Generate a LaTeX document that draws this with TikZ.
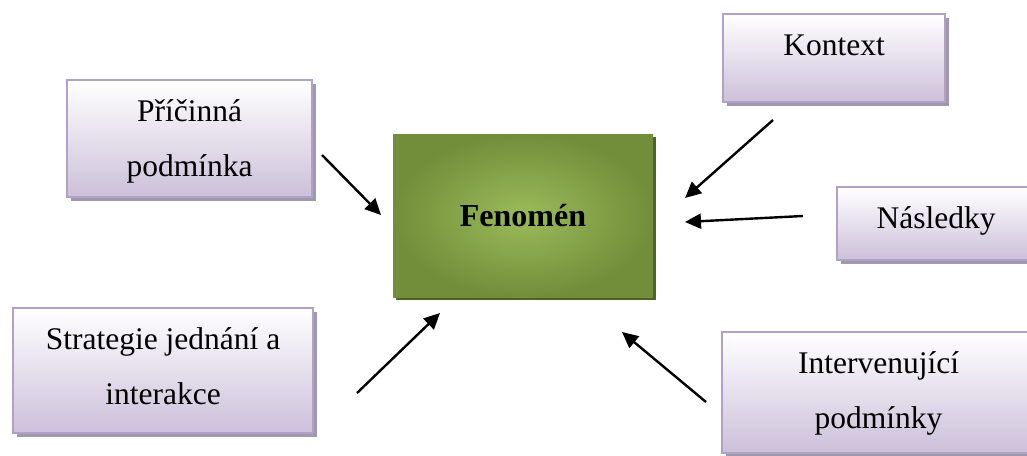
\documentclass[tikz,border=0pt]{standalone}
\usepackage{fontspec}
\setmainfont{Liberation Serif}
\usetikzlibrary{arrows.meta,shadows}

\definecolor{lilacedge}{RGB}{178,161,199}
\definecolor{lilacbottom}{RGB}{204,192,218}
\definecolor{lilacshadow}{RGB}{160,152,174}
\definecolor{greenouter}{RGB}{114,142,58}
\definecolor{greeninner}{RGB}{155,187,89}
\definecolor{greenshadow}{RGB}{79,98,40}

\tikzset{
  card/.style={draw=lilacedge, line width=1.5pt, top color=white,
    bottom color=lilacbottom, inner sep=0pt,
    general shadow={fill=lilacshadow, shadow xshift=4pt, shadow yshift=-4pt}},
  core/.style={inner color=greeninner, outer color=greenouter, inner sep=0pt,
    general shadow={fill=greenshadow, shadow xshift=3pt, shadow yshift=-3pt},
    font=\fontsize{32}{40}\selectfont\bfseries},
  cardtext/.style={anchor=north, inner sep=0pt, align=center,
    font=\fontsize{31.5}{55}\selectfont},
  flow/.style={line width=2.4pt, -{Triangle[length=16pt,width=15pt]}}
}

\newcommand{\firstline}{\rule{0pt}{30pt}}

\begin{document}
\begin{tikzpicture}[x=1pt, y=-1pt]
  \useasboundingbox (0,0) rectangle (1027,455);
  \clip (0,0) rectangle (1027,455);

  % central phenomenon
  \node[core, minimum width=260pt, minimum height=163pt] (fen) at (523,215.5) {Fenomén};

  % surrounding conditions
  \node[card, minimum width=245pt, minimum height=117pt] (cause) at (189.5,138.5) {};
  \node[cardtext] (causet) at ([yshift=-12pt]cause.north) {\firstline Příčinná\\podmínka};

  \node[card, minimum width=222pt, minimum height=88pt] (ctx) at (834,58) {};
  \node[cardtext] (ctxt) at ([yshift=-12pt]ctx.north) {\firstline Kontext};

  \node[card, minimum width=198pt, minimum height=73pt] (cons) at (936,223.5) {};
  \node[cardtext] (const) at ([yshift=-12pt]cons.north) {\firstline Následky};

  \node[card, minimum width=300pt, minimum height=125pt] (strat) at (163,370.5) {};
  \node[cardtext] (stratt) at ([yshift=-12pt]strat.north) {\firstline Strategie jednání a\\interakce};

  \node[card, minimum width=313pt, minimum height=121pt] (inter) at (878.5,392.5) {};
  \node[cardtext] (intert) at ([yshift=-12pt]inter.north) {\firstline Intervenující\\podmínky};

  % arrow end points
  \coordinate (c1) at (322,155);  \coordinate (f1) at (381,215);
  \coordinate (c2) at (773,120);  \coordinate (f2) at (685,198);
  \coordinate (c3) at (803,216);  \coordinate (f3) at (685,222);
  \coordinate (c4) at (357,393);  \coordinate (f4) at (440,313);
  \coordinate (c5) at (706,402);  \coordinate (f5) at (622,332);

  \draw[flow] (c1) -- (f1);
  \draw[flow] (c2) -- (f2);
  \draw[flow] (c3) -- (f3);
  \draw[flow] (c4) -- (f4);
  \draw[flow] (c5) -- (f5);
\end{tikzpicture}
\end{document}
